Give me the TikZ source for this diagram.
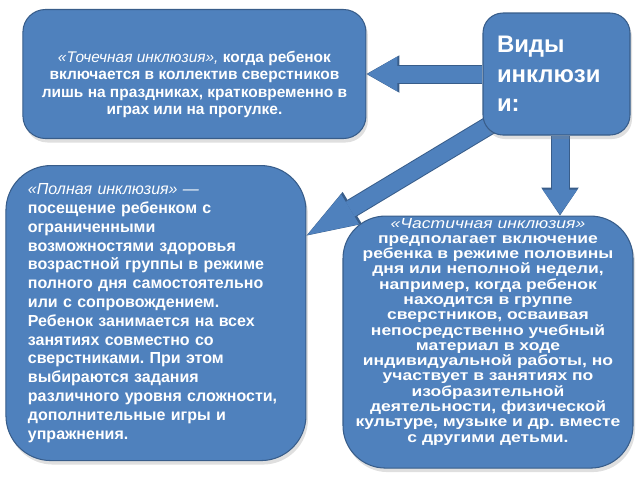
\documentclass[tikz,border=0pt]{standalone}
\usepackage{fontspec}
\setmainfont{Liberation Sans}
\newfontfamily\widefont[FakeStretch=1.2]{Liberation Sans}
\frenchspacing
\usetikzlibrary{arrows.meta,positioning,shadows,backgrounds}
\definecolor{boxblue}{RGB}{79,129,189}
\definecolor{boxborder}{RGB}{56,93,138}

\begin{document}
\begin{tikzpicture}[thick,
  info box/.style={rectangle,rounded corners=#1,draw=boxborder,fill=boxblue,
    line width=0.6pt,text=white,
    drop shadow={shadow xshift=0.4mm,shadow yshift=-0.8mm,opacity=0.25}},
  info box/.default=0.5cm,
  block arrow/.style 2 args={draw=boxblue,line width=0.34cm,shorten >=0.02cm,
    -{Triangle[width=0.7cm,length=#1,line width=0pt]},
    preaction={draw=boxborder,line width=0.38cm,shorten >=0pt,
      -{Triangle[width=0.75cm,length=#2,line width=0pt]}}}]

  \useasboundingbox (0,0) rectangle (12.8,-9.6);

  \node[info box=0.4cm,minimum height=2.44cm,text width=2.38cm,
    inner xsep=0.28cm,align=left,
    font=\bfseries\fontsize{13.6}{16.7}\selectfont] (vidy) at (11.13,-1.48)
    {Виды\\инклюзи\\и:};
  \node[info box=0.45cm,minimum height=2.58cm,minimum width=6.86cm,
    font=\bfseries\fontsize{8.8}{10}\selectfont] (tochka) [left=2.32cm of vidy]
    {\raisebox{-6pt}[\height][\depth]{\parbox{6.4cm}{\centering
     {\mdseries\itshape «Точечная инклюзия»,} когда ребенок\\
     включается в коллектив сверстников\\
     лишь на праздниках, кратковременно в\\
     играх или на прогулке.}}};
  \node[info box=0.9cm,minimum height=5.9cm,text width=5.12cm,
    inner xsep=0.44cm,align=left,
    font=\bfseries\fontsize{9.1}{10.7}\selectfont] (polnaya)
    [below=0.52cm of tochka,xshift=-0.77cm]
    {{\mdseries\itshape «Полная инклюзия» —}\\
     посещение ребенком с\\
     ограниченными\\
     возможностями здоровья\\
     возрастной группы в режиме\\
     полного дня самостоятельно\\
     или с сопровождением.\\
     Ребенок занимается на всех\\
     занятиях совместно со\\
     сверстниками. При этом\\
     выбираются задания\\
     различного уровня сложности,\\
     дополнительные игры и\\
     упражнения.};
  \node[info box=0.85cm,minimum height=5.04cm,minimum width=5.8cm,
    font=\widefont\bfseries\fontsize{8.3}{8.7}\selectfont] (chast)
    [below=1.6cm of vidy,xshift=-1.37cm]
    {\raisebox{6pt}[\height][\depth]{\parbox{5.5cm}{\centering
     {\mdseries\itshape «Частичная инклюзия»}\\
     предполагает включение\\
     ребенка в режиме половины\\
     дня или неполной недели,\\
     например, когда ребенок\\
     находится в группе\\
     сверстников, осваивая\\
     непосредственно учебный\\
     материал в ходе\\
     индивидуальной работы, но\\
     участвует в занятиях по\\
     изобразительной\\
     деятельности, физической\\
     культуре, музыке и др. вместе\\
     с другими детьми.}}};

  % block arrows go under the boxes
  \begin{scope}[on background layer]
    \draw[block arrow={0.6cm}{0.66cm}] (vidy.west) -- (vidy.west -| tochka.east);
    \draw[block arrow={0.5cm}{0.56cm}] ([xshift=0.07cm]vidy.south)
      -- ([xshift=0.07cm]vidy.south |- chast.north);
    \draw[block arrow={1.0cm}{1.07cm}] ([shift={(-0.83cm,-0.72cm)}]vidy.center)
      -- ([yshift=1.55cm]polnaya.east);
  \end{scope}
\end{tikzpicture}
\end{document}
